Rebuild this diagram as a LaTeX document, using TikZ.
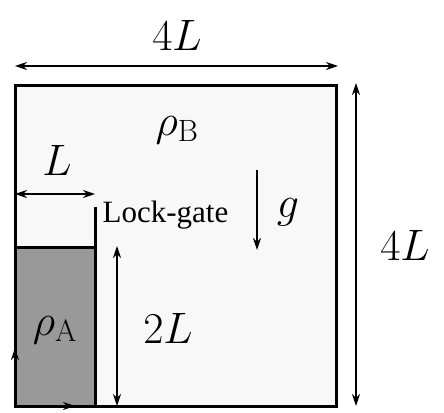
\RequirePackage{fix-cm}
\documentclass[tikz,border=0pt]{standalone}
\usepackage{fontspec}
\newfontfamily\gatefont{Liberation Serif}
\usetikzlibrary{arrows.meta}
\begin{document}
\begin{tikzpicture}[x=1pt,y=1pt,
  wall/.style={line width=3pt},
  dim/.style={line width=1.3pt,{Stealth[length=12pt,width=8pt]}-{Stealth[length=12pt,width=8pt]}},
  onearrow/.style={line width=1.3pt,-{Stealth[length=12pt,width=8pt]}},
  big/.style={font=\fontsize{44}{50}\selectfont, inner sep=0pt},
  small/.style={font=\gatefont\fontsize{31}{36}\selectfont, inner sep=0pt}]
\useasboundingbox (0,0) rectangle (444,412);
% tank
\path[fill={rgb,255:red,248;green,248;blue,248}] (15,6) rectangle (336,326);
\path[fill={rgb,255:red,153;green,153;blue,153}] (15,6) rectangle (95,164);
\draw[wall] (15,6) rectangle (336,326);
\draw[wall] (95,6) -- (95,205);
\draw[wall] (15,164) -- (95,164);
% coordinates
\coordinate (tl) at (15,346); \coordinate (tr) at (338,346);
\coordinate (rb) at (356,6); \coordinate (rt) at (356,329);
\coordinate (ll) at (15,218); \coordinate (lr) at (95,218);
\coordinate (hb) at (117,6); \coordinate (ht) at (117,166);
\coordinate (gt) at (257,242); \coordinate (gb) at (257,162);
\coordinate (o) at (15,6); \coordinate (ax) at (75,6); \coordinate (az) at (15,64);
\draw[dim] (tl) -- (tr);
\draw[dim] (rb) -- (rt);
\draw[dim] (ll) -- (lr);
\draw[dim] (hb) -- (ht);
\draw[onearrow] (gt) -- (gb);
\draw[onearrow] (o) -- (ax);
\draw[onearrow] (o) -- (az);
% labels
\node[big] (t4L) at (177,377) {$4L$};
\node[big] (r4L) at (405,167) {$4L$};
\node[big] (lL) at (57,252) {$L$};
\node[big] (h2L) at (168,84) {$2L$};
\node[big] (rhoB) at (177,282) {$\rho_{\mathrm{B}}$};
\node[big] (rhoA) at (55,82) {$\rho_{\mathrm{A}}$};
\node[big] (g) at (288,200) {$g$};
\node[small, anchor=base] (gate) at (165.5,189) {Lock-gate};
\end{tikzpicture}
\end{document}
